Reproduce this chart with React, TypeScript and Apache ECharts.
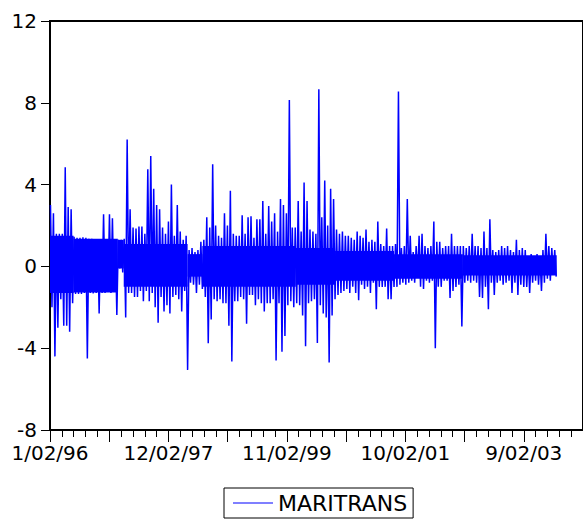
import { useEffect, useRef } from "react";
import * as echarts from "echarts";

// Daily returns of MARITRANS, 1/02/96 onwards. Each block covers 12 trading
// days and holds that block's highest and lowest return.
const seriesName = "MARITRANS";
const dateLabels = ["1/02/96", "12/02/97", "11/02/99", "10/02/01", "9/02/03"];
const yTicks = [-8, -4, 0, 4, 8, 12];

const OBS_PER_LABEL = 482;
const OBS_PER_BLOCK = 12;

const blockHigh = [
  3.0, 2.6, 1.6, 1.6, 1.6, 4.85, 2.9, 2.8, 1.45, 1.4,
  1.4, 1.42, 1.4, 1.35, 1.35, 1.3, 1.3, 1.3, 2.55, 1.3,
  2.55, 2.35, 1.3, 1.3, 1.3, 1.35, 6.2, 2.8, 1.9, 1.85,
  1.95, 1.95, 1.6, 4.75, 5.4, 3.8, 3.0, 2.8, 1.9, 1.6,
  2.2, 4.0, 1.5, 3.0, 1.7, 1.3, 1.5, 0.8, 0.9, 0.7,
  0.8, 1.2, 1.3, 2.4, 1.9, 5.0, 2.0, 1.5, 1.4, 2.6,
  2.0, 3.7, 1.6, 1.5, 1.5, 2.5, 1.6, 2.4, 2.45, 1.4,
  2.3, 2.3, 3.2, 1.6, 2.95, 2.2, 2.6, 1.7, 3.3, 3.0,
  2.6, 8.14, 1.9, 1.9, 3.2, 1.7, 4.1, 3.2, 1.8, 1.7,
  1.6, 8.66, 2.4, 4.2, 2.0, 3.8, 3.3, 1.8, 1.6, 1.7,
  1.5, 1.5, 1.4, 1.3, 1.7, 1.5, 1.4, 1.8, 1.2, 1.3,
  1.2, 2.2, 1.1, 1.0, 1.85, 1.0, 1.0, 1.1, 8.55, 0.9,
  1.0, 3.3, 1.5, 0.7, 1.0, 1.5, 1.6, 1.0, 0.9, 1.0,
  2.2, 1.2, 1.2, 0.9, 1.0, 1.0, 1.6, 1.0, 1.0, 1.0,
  1.0, 0.9, 1.0, 1.6, 1.0, 1.0, 0.9, 1.7, 0.9, 2.3,
  0.8, 0.7, 0.8, 1.0, 0.9, 1.0, 0.8, 0.7, 1.3, 0.8,
  0.9, 0.8, 0.5, 0.6, 0.5, 0.6, 0.4, 0.8, 1.6, 1.0,
  0.9, 0.8,
];

const blockLow = [
  -2.0, -4.4, -3.0, -1.6, -2.9, -2.9, -3.2, -1.8, -1.35, -1.35,
  -1.35, -1.3, -4.5, -1.3, -1.32, -1.3, -2.3, -1.3, -1.3, -1.25,
  -1.3, -1.25, -2.37, -0.1, -0.3, -2.5, -1.3, -1.3, -1.5, -1.5,
  -1.2, -1.7, -1.2, -1.7, -1.3, -2.0, -2.75, -1.5, -2.2, -1.9,
  -2.3, -1.5, -1.4, -1.6, -2.2, -1.2, -5.06, -0.8, -0.9, -1.3,
  -0.9, -1.1, -1.5, -3.76, -2.6, -1.6, -1.7, -1.6, -1.8, -1.8,
  -2.9, -4.65, -1.7, -1.7, -1.5, -1.6, -2.8, -1.4, -1.4, -1.9,
  -1.6, -1.8, -2.2, -1.8, -1.8, -1.6, -4.6, -1.8, -4.17, -3.4,
  -1.9, -1.7, -2.0, -1.8, -1.9, -2.4, -3.9, -1.8, -1.7, -1.6,
  -3.75, -1.9, -2.3, -2.5, -4.7, -2.4, -1.6, -1.4, -1.3, -1.2,
  -1.1, -1.3, -1.0, -1.3, -1.65, -0.9, -1.1, -1.0, -1.3, -0.8,
  -2.1, -1.0, -1.0, -1.0, -1.6, -1.6, -1.0, -1.0, -0.9, -0.8,
  -0.9, -0.8, -0.7, -0.8, -0.5, -1.0, -1.1, -0.7, -0.8, -0.7,
  -4.0, -1.0, -1.0, -0.7, -0.7, -1.55, -1.2, -1.0, -0.9, -2.94,
  -0.8, -0.7, -0.8, -0.7, -0.8, -1.5, -1.55, -1.0, -2.1, -0.8,
  -1.4, -0.8, -0.7, -0.9, -0.8, -0.7, -1.3, -0.8, -1.4, -0.9,
  -1.0, -1.0, -1.3, -0.8, -0.7, -0.9, -1.2, -0.8, -0.6, -0.7,
  -0.4, -0.5,
];

// Stretches where the daily returns are packed so tightly that the trace is
// solid: start/end observation and the band's lower/upper return.
const denseFrom = [0, 96, 276, 300, 560, 620, 1000, 1160, 1400, 1680];
const denseTo = [96, 276, 300, 560, 620, 1000, 1160, 1400, 1680, 2062];
const denseLow = [-1.3, -1.28, -0.1, -1.0, -0.5, -1.0, -0.9, -0.7, -0.6, -0.45];
const denseHigh = [1.5, 1.35, 1.3, 1.1, 0.6, 1.0, 0.9, 0.75, 0.6, 0.55];

const FONT = "DejaVu Sans";
const BLUE = "#0000ff";

export default function App() {
  const ref = useRef<HTMLDivElement>(null);

  useEffect(() => {
    document.body.style.margin = "0";
    const chart = echarts.init(ref.current!, null, { renderer: "svg" });

    const data: [number, number][] = [];
    blockHigh.forEach((h, k) => {
      data.push([k * OBS_PER_BLOCK + 2, h]);
      data.push([k * OBS_PER_BLOCK + 8, blockLow[k]]);
    });

    const denseRows = denseFrom.map((f, i) => [f, denseTo[i], denseLow[i], denseHigh[i]]);

    const majorStep = OBS_PER_LABEL / 2;

    chart.setOption({
      animation: false,
      grid: {
        left: 50,
        top: 21,
        width: 543,
        height: 409,
        show: true,
        borderColor: "#000",
        borderWidth: 2,
        backgroundColor: "transparent",
      },
      legend: {
        left: 224,
        top: 488,
        padding: [4, 6, 4, 9],
        borderColor: "#000",
        borderWidth: 1,
        icon: "rect",
        itemWidth: 40,
        itemHeight: 1,
        textStyle: { fontFamily: FONT, fontSize: 22, color: "#000" },
        data: [seriesName],
      },
      xAxis: {
        type: "value",
        min: 0,
        max: majorStep * 9,
        interval: majorStep,
        axisLine: { onZero: false, lineStyle: { color: "#000", width: 2 } },
        axisTick: { show: true, length: 12, lineStyle: { color: "#000", width: 1 } },
        minorTick: { show: true, splitNumber: 5, length: 7, lineStyle: { color: "#000", width: 1 } },
        splitLine: { show: false },
        minorSplitLine: { show: false },
        axisLabel: {
          margin: 13,
          color: "#000",
          fontFamily: FONT,
          fontSize: 20,
          showMaxLabel: false,
          formatter: (value: number) => {
            const i = Math.round(value / OBS_PER_LABEL);
            return Math.abs(value - i * OBS_PER_LABEL) < 1e-6 && dateLabels[i] ? dateLabels[i] : "";
          },
        },
      },
      yAxis: {
        type: "value",
        min: yTicks[0],
        max: yTicks[yTicks.length - 1],
        interval: 4,
        axisLine: { show: true, onZero: false, lineStyle: { color: "#000", width: 2 } },
        axisTick: { show: true, length: 9, lineStyle: { color: "#000", width: 1 } },
        splitLine: { show: false },
        axisLabel: { margin: 13, color: "#000", fontFamily: FONT, fontSize: 20 },
      },
      series: [
        {
          name: "dense",
          type: "custom",
          data: denseRows,
          silent: true,
          z: 1,
          renderItem: (_params: any, api: any) => {
            const p0 = api.coord([api.value(0), api.value(3)]);
            const p1 = api.coord([api.value(1), api.value(2)]);
            return {
              type: "rect",
              shape: { x: p0[0], y: p0[1], width: p1[0] - p0[0], height: p1[1] - p0[1] },
              style: { fill: BLUE },
            };
          },
        },
        {
          name: seriesName,
          type: "line",
          data,
          symbol: "none",
          z: 2,
          lineStyle: { color: BLUE, width: 1.5 },
          itemStyle: { color: BLUE },
        },
      ],
    });

    return () => chart.dispose();
  }, []);

  return <div ref={ref} style={{ width: 583, height: 520 }} />;
}
